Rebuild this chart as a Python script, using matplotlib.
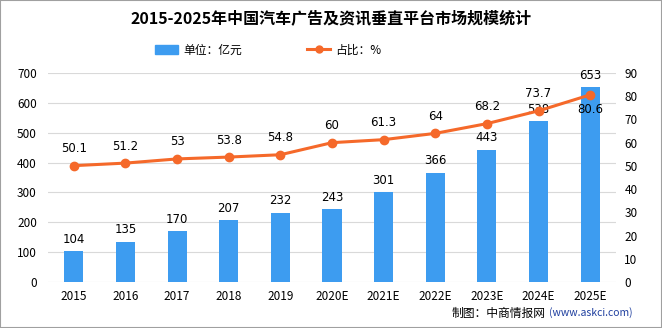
import matplotlib
matplotlib.use("Agg")
import matplotlib.pyplot as plt
from matplotlib.lines import Line2D
from matplotlib.patches import Patch, Rectangle

plt.rcParams["font.family"] = ["Noto Sans CJK SC", "DejaVu Sans"]

# 数据
years = ["2015", "2016", "2017", "2018", "2019", "2020E", "2021E",
         "2022E", "2023E", "2024E", "2025E"]
scale = [104, 135, 170, 207, 232, 243, 301, 366, 443, 538, 653]
share = [50.1, 51.2, 53, 53.8, 54.8, 60, 61.3, 64, 68.2, 73.7, 80.6]
share_labels = ["50.1", "51.2", "53", "53.8", "54.8", "60", "61.3",
                "64", "68.2", "73.7", "80.6"]

bar_color = "#3d9cf0"
line_color = "#f5692a"

fig = plt.figure(figsize=(6.62, 3.28), dpi=100)
ax = fig.add_axes([48 / 662, 1 - 282 / 328, 568 / 662, 209 / 328])
ax2 = ax.twinx()

x = list(range(len(years)))
ax.bar(x, scale, width=0.37, color=bar_color, zorder=2)
ax.set_ylim(0, 700)
ax.set_yticks(range(0, 701, 100))
ax.set_xlim(-0.5, len(years) - 0.5)
ax.set_xticks(x)
ax.set_xticklabels(years)
ax.grid(axis="y", color="#d9d9d9", linewidth=0.8, zorder=0)
ax.set_axisbelow(True)

ax2.plot(x, share, color=line_color, linewidth=2.2, marker="o",
         markersize=6, zorder=3)
ax2.set_ylim(0, 90)
ax2.set_yticks(range(0, 91, 10))

for a in (ax, ax2):
    for s in a.spines.values():
        s.set_visible(False)
    a.tick_params(length=0, labelsize=8.5, colors="#000000")
ax.tick_params(axis="x", pad=6)
ax.tick_params(axis="y", pad=8)
ax2.tick_params(axis="y", pad=6)

for i, v in enumerate(scale):
    ax.text(i, v + 18, str(v), ha="center", va="bottom", fontsize=8.5,
            family=["DejaVu Sans"], zorder=4)
for i, (v, lab) in enumerate(zip(share, share_labels)):
    if i == len(share) - 1:
        ax2.text(i, v - 3.5, lab, ha="center", va="top", fontsize=8.5,
                 family=["DejaVu Sans"], zorder=4)
    else:
        ax2.text(i, v + 4.5, lab, ha="center", va="bottom", fontsize=8.5,
                 family=["DejaVu Sans"], zorder=4)

fig.text(0.5, 1 - 18 / 328, "2015-2025年中国汽车广告及资讯垂直平台市场规模统计",
         ha="center", va="center", fontsize=11.5, fontweight="bold")

handles = [Patch(color=bar_color),
           Line2D([0], [0], color=line_color, linewidth=2.2, marker="o",
                  markersize=5)]
fig.legend(handles, ["单位：亿元", "占比：%"], loc="center",
           bbox_to_anchor=(268 / 662, 1 - 50 / 328), ncol=2, frameon=False,
           fontsize=8.5, columnspacing=5.5, handlelength=2.0,
           handletextpad=0.4)

fig.text(452 / 662, 1 - 313 / 328, "制图：中商情报网", ha="left",
         va="center", fontsize=8.5)
fig.text(549 / 662, 1 - 313 / 328, "(www.askci.com)", ha="left",
         va="center", fontsize=7.5, color="#1f3f9f")

fig.add_artist(Rectangle((0, 0), 1, 1, transform=fig.transFigure,
                         fill=False, edgecolor="#a0a0a0", linewidth=1.5))

fig.savefig("out.png", dpi=100)
